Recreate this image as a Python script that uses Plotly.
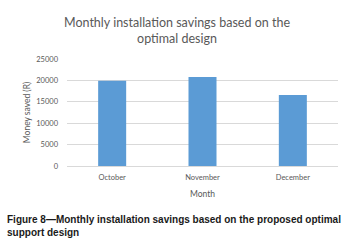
import plotly.graph_objects as go

months = ["October", "November", "December"]
savings = [19900, 20800, 16600]
y_ticks = [0, 5000, 10000, 15000, 20000, 25000]

fig = go.Figure()
fig.add_trace(go.Bar(x=months, y=savings, marker=dict(color="#5B9BD5", line=dict(width=0))))

gray = "#595959"
fig.update_layout(
    width=354, height=248,
    margin=dict(l=67, r=16, t=59, b=82),
    paper_bgcolor="white", plot_bgcolor="white",
    bargap=0.69,
    showlegend=False,
    font=dict(family="Lato, Open Sans, sans-serif", color=gray, size=8),
    title=dict(text="Monthly installation savings based on the<br>optimal design",
               x=0.5, xref="container", xanchor="center", y=1 - 27 / 248, yanchor="top",
               font=dict(family="Lato, Open Sans, sans-serif", size=12.5, color=gray)),
)
fig.update_yaxes(range=[0, 25000], tickvals=y_ticks, ticktext=[str(v) for v in y_ticks],
                 showgrid=True, gridcolor="#D9D9D9", gridwidth=1, zeroline=False,
                 showline=False, ticks="", ticklen=0, ticklabelstandoff=8,
                 tickfont=dict(size=7.5, color=gray),
                 title=dict(text="Money saved (R)", font=dict(size=8.5, color=gray), standoff=4))
fig.update_xaxes(showline=True, linecolor="#D9D9D9", linewidth=1, ticks="",
                 ticklabelstandoff=4,
                 tickfont=dict(size=7.5, color=gray),
                 title=dict(text="Month", font=dict(size=8.5, color=gray), standoff=10))

fig.add_annotation(text="<b>Figure 8—Monthly installation savings based on the proposed optimal<br>support design</b>",
                   xref="paper", yref="paper", x=-62 / 271, y=-0.43, xanchor="left", yanchor="top",
                   align="left", showarrow=False,
                   font=dict(family="Liberation Sans, Arial, sans-serif", size=10, color="#1a1a1a"))

fig.write_html("out.html", config={"displayModeBar": False},
               post_script="document.body.style.margin='0';")
